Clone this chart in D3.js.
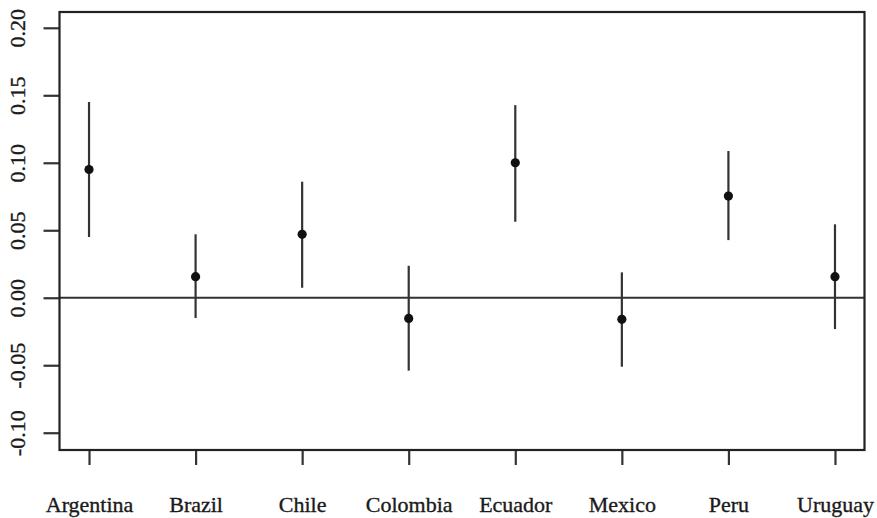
<!DOCTYPE html>
<html>
<head>
<meta charset="utf-8">
<script src="https://cdn.jsdelivr.net/npm/d3@7"></script>
<style>
  body { margin: 0; background: #fff; }
  text { font-family: "Liberation Serif", "Times New Roman", serif; fill: #1a1a1a; stroke: #1a1a1a; stroke-width: 0.35px; }
</style>
</head>
<body>
<svg id="chart" width="877" height="518"></svg>
<script>
// values
const countries = ["Argentina", "Brazil", "Chile", "Colombia", "Ecuador", "Mexico", "Peru", "Uruguay"];
const estimates = [0.095, 0.0156, 0.047, -0.0153, 0.100, -0.016, 0.0753, 0.0156];
const lower = [0.045, -0.015, 0.0074, -0.054, 0.0563, -0.0511, 0.0427, -0.0232];
const upper = [0.145, 0.047, 0.086, 0.0237, 0.1427, 0.0188, 0.1087, 0.0544];
const yTicks = [-0.10, -0.05, 0.00, 0.05, 0.10, 0.15, 0.20];

const svg = d3.select("#chart");

const box = { left: 59.5, right: 864.5, top: 12, bottom: 450 };

const x = d3.scalePoint()
  .domain(countries)
  .range([box.left, box.right])
  .padding(0.277);

const y = d3.scaleLinear()
  .domain([-0.1128, 0.2117])
  .range([box.bottom, box.top]);

const rows = countries.map((c, i) => ({
  country: c, est: estimates[i], lo: lower[i], hi: upper[i]
}));

// R prints a plain hyphen for negatives
const fmt = d => d3.format(".2f")(d).replace("\u2212", "-");

// zero reference line
svg.append("line")
  .attr("x1", box.left).attr("x2", box.right)
  .attr("y1", y(0)).attr("y2", y(0))
  .attr("stroke", "#333").attr("stroke-width", 2.2);

// y axis (R style, ticks to the left, labels rotated)
const yAxis = svg.append("g")
  .attr("transform", `translate(${box.left},0)`)
  .call(d3.axisLeft(y).tickValues(yTicks).tickSize(16).tickFormat(fmt));
yAxis.select(".domain").remove();
yAxis.selectAll(".tick line").attr("stroke", "#333").attr("stroke-width", 2.2);
yAxis.selectAll(".tick text")
  .attr("x", null).attr("dy", null)
  .attr("transform", "translate(-34.5,0) rotate(-90)")
  .attr("text-anchor", "middle")
  .style("font-size", "22px")
  .style("font-family", "'Liberation Serif', serif");

// x axis
const xAxis = svg.append("g")
  .attr("transform", `translate(0,${box.bottom})`)
  .call(d3.axisBottom(x).tickSize(15).tickPadding(0));
xAxis.select(".domain").remove();
xAxis.selectAll(".tick line").attr("stroke", "#333").attr("stroke-width", 2.2);
xAxis.selectAll(".tick text")
  .attr("y", 61.7).attr("dy", null)
  .style("font-size", "22px")
  .style("font-family", "'Liberation Serif', serif");

// intervals
svg.selectAll("line.ci")
  .data(rows)
  .join("line")
  .attr("class", "ci")
  .attr("x1", d => x(d.country)).attr("x2", d => x(d.country))
  .attr("y1", d => y(d.lo)).attr("y2", d => y(d.hi))
  .attr("stroke", "#333").attr("stroke-width", 2.2);

// point estimates
svg.selectAll("circle.est")
  .data(rows)
  .join("circle")
  .attr("class", "est")
  .attr("cx", d => x(d.country))
  .attr("cy", d => y(d.est))
  .attr("r", 4.6)
  .attr("fill", "#111");

// plot frame
svg.append("rect")
  .attr("x", box.left).attr("y", box.top)
  .attr("width", box.right - box.left).attr("height", box.bottom - box.top)
  .attr("fill", "none").attr("stroke", "#222").attr("stroke-width", 2.2);
</script>
</body>
</html>
